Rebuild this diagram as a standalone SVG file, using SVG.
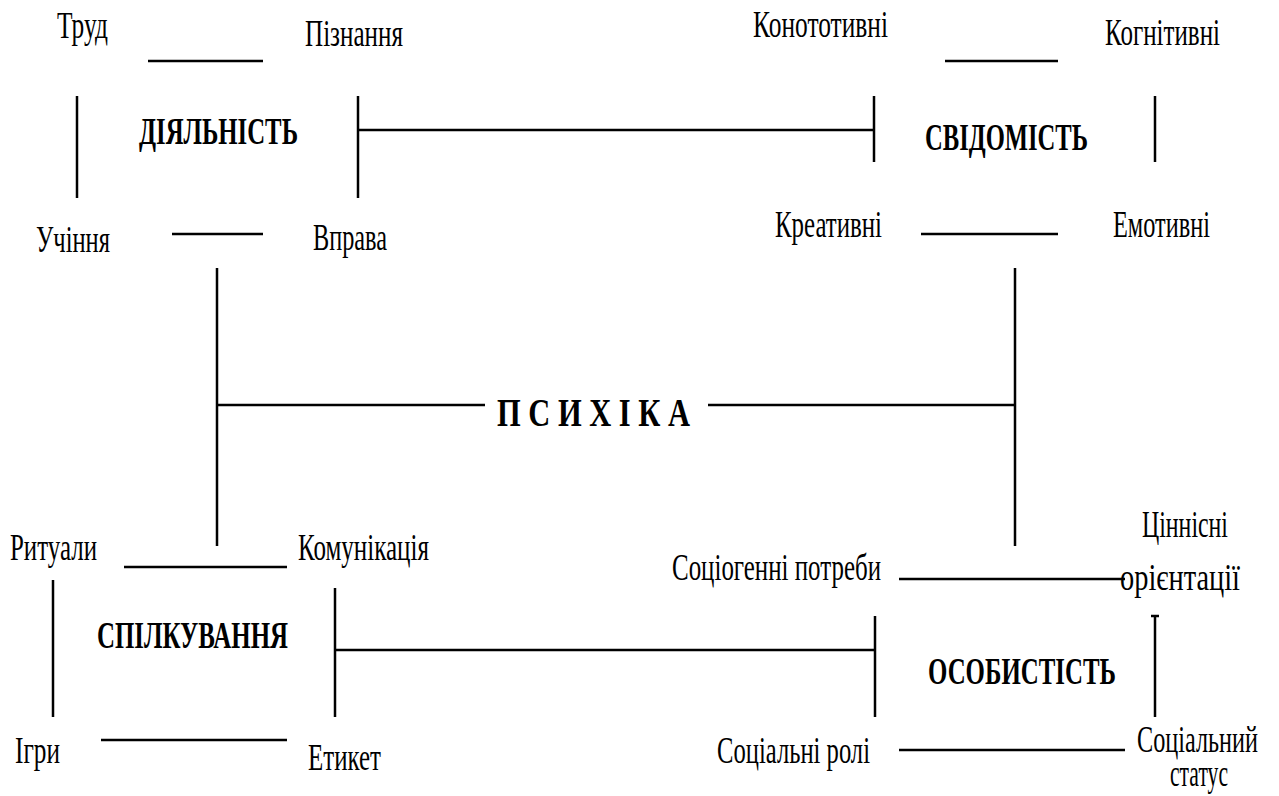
<svg xmlns="http://www.w3.org/2000/svg" width="1279" height="796" viewBox="0 0 1279 796">
<style>
text{font-family:"Liberation Serif","Times New Roman",serif;fill:#000}
.l{font-size:38px}
.b{font-size:37px;font-weight:bold}
.p{font-size:41px;font-weight:bold}
#connectors line{stroke:#000;stroke-width:2.5;fill:none}
</style>
<rect width="1279" height="796" fill="#fff"/>
<g id="connectors">
<line x1="148" y1="61" x2="263" y2="61"/>
<line x1="945" y1="61" x2="1058" y2="61"/>
<line x1="77" y1="96" x2="77" y2="198"/>
<line x1="358" y1="96" x2="358" y2="198"/>
<line x1="358" y1="130" x2="874" y2="130"/>
<line x1="874" y1="96" x2="874" y2="162"/>
<line x1="1155" y1="96" x2="1155" y2="162"/>
<line x1="172" y1="234" x2="263" y2="234"/>
<line x1="921" y1="234" x2="1058" y2="234"/>
<line x1="217" y1="268" x2="217" y2="546"/>
<line x1="1015" y1="268" x2="1015" y2="546"/>
<line x1="217" y1="405" x2="485" y2="405"/>
<line x1="708" y1="405" x2="1015" y2="405"/>
<line x1="124" y1="567" x2="287" y2="567"/>
<line x1="53" y1="580" x2="53" y2="717"/>
<line x1="335" y1="588" x2="335" y2="717"/>
<line x1="335" y1="650" x2="875" y2="650"/>
<line x1="875" y1="616" x2="875" y2="717"/>
<line x1="101" y1="740" x2="287" y2="740"/>
<line x1="899" y1="579" x2="1125" y2="579"/>
<line x1="1155" y1="616" x2="1155" y2="717"/>
<line x1="1151" y1="616" x2="1159" y2="616"/>
<line x1="899" y1="750" x2="1125" y2="750"/>
</g>
<g id="node-trud"><text class="l" x="57" y="38" textLength="51" lengthAdjust="spacingAndGlyphs">Труд</text></g>
<g id="node-piznannia"><text class="l" x="305" y="46" textLength="98" lengthAdjust="spacingAndGlyphs">Пізнання</text></g>
<g id="node-diialnist"><text class="b" x="139" y="144" textLength="159" lengthAdjust="spacingAndGlyphs">ДІЯЛЬНІСТЬ</text></g>
<g id="node-uchinnia"><text class="l" x="36" y="252" textLength="74" lengthAdjust="spacingAndGlyphs">Учіння</text></g>
<g id="node-vprava"><text class="l" x="313" y="250" textLength="74" lengthAdjust="spacingAndGlyphs">Вправа</text></g>
<g id="node-konototyvni"><text class="l" x="753" y="37" textLength="135" lengthAdjust="spacingAndGlyphs">Конототивні</text></g>
<g id="node-kohnityvni"><text class="l" x="1105" y="45" textLength="115" lengthAdjust="spacingAndGlyphs">Когнітивні</text></g>
<g id="node-svidomist"><text class="b" x="925" y="150" textLength="163" lengthAdjust="spacingAndGlyphs">СВІДОМІСТЬ</text></g>
<g id="node-kreatyvni"><text class="l" x="775" y="237" textLength="107" lengthAdjust="spacingAndGlyphs">Креативні</text></g>
<g id="node-emotyvni"><text class="l" x="1113" y="237" textLength="97" lengthAdjust="spacingAndGlyphs">Емотивні</text></g>
<g id="node-psykhika"><text class="p" x="497" y="426" textLength="193" lengthAdjust="spacingAndGlyphs">П С И Х І К А</text></g>
<g id="node-rytualy"><text class="l" x="10" y="560" textLength="87" lengthAdjust="spacingAndGlyphs">Ритуали</text></g>
<g id="node-komunikatsiia"><text class="l" x="298" y="560" textLength="131" lengthAdjust="spacingAndGlyphs">Комунікація</text></g>
<g id="node-spilkuvannia"><text class="b" x="97" y="648" textLength="191" lengthAdjust="spacingAndGlyphs">СПІЛКУВАННЯ</text></g>
<g id="node-ihry"><text class="l" x="15" y="763" textLength="45" lengthAdjust="spacingAndGlyphs">Ігри</text></g>
<g id="node-etyket"><text class="l" x="308" y="770" textLength="73" lengthAdjust="spacingAndGlyphs">Етикет</text></g>
<g id="node-sotsiohenni"><text class="l" x="672" y="580" textLength="209" lengthAdjust="spacingAndGlyphs">Соціогенні потреби</text></g>
<g id="node-tsinnisni"><text class="l" x="1142" y="537" textLength="86" lengthAdjust="spacingAndGlyphs">Ціннісні</text><text class="l" x="1120" y="590" textLength="120" lengthAdjust="spacingAndGlyphs">орієнтації</text></g>
<g id="node-osobystist"><text class="b" x="928" y="684" textLength="188" lengthAdjust="spacingAndGlyphs">ОСОБИСТІСТЬ</text></g>
<g id="node-sotsialni-roli"><text class="l" x="717" y="763" textLength="153" lengthAdjust="spacingAndGlyphs">Соціальні ролі</text></g>
<g id="node-sotsialnyi-status"><text class="l" x="1137" y="752" textLength="121" lengthAdjust="spacingAndGlyphs">Соціальний</text><text class="l" x="1170" y="786" textLength="58" lengthAdjust="spacingAndGlyphs">статус</text></g>
</svg>
